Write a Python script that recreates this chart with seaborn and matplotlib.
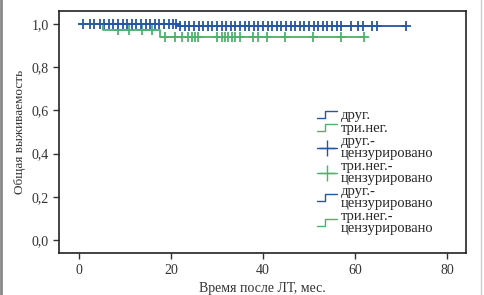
import matplotlib
matplotlib.use('Agg')
import matplotlib.pyplot as plt
from matplotlib.lines import Line2D
from matplotlib.legend_handler import HandlerBase
from matplotlib.ticker import FuncFormatter
import seaborn as sns
import numpy as np
import pandas as pd

# ступенчатые кривые Каплана-Мейера
drug_t = [0, 21.5, 71]
drug_s = [1.0, 0.988, 0.988]
trineg_t = [0, 5.2, 17.6, 62]
trineg_s = [1.0, 0.972, 0.941, 0.941]

# цензурированные наблюдения
drug_cens = [1, 2.4, 3.2, 4.6, 5.5, 6.5, 7.5, 8.5, 9.5, 10.5, 11.5, 12.5, 13.5, 14.5,
             15.5, 16.5, 17.5, 18.5, 19.5, 20.5, 21, 22, 23, 24, 25, 26, 27, 28, 29, 30,
             31, 32, 33, 34, 35, 36, 37, 38, 39, 40, 41, 42, 43, 44, 45, 46, 47, 48, 49,
             50, 51, 52, 53, 54, 55, 56, 57, 59, 60.7, 61.7, 63.7, 64.8, 71]
trineg_cens = [8.5, 11, 13.7, 15.9, 18.7, 20.9, 22.4, 23.7, 24.6, 25.2, 25.9, 30, 31,
               31.7, 32.4, 33.3, 33.9, 35, 37.8, 38.9, 40.9, 44.8, 50.9, 57, 62]

labels = ['друг.', 'три.нег.', 'друг.-\nцензурировано', 'три.нег.-\nцензурировано',
          'друг.-\nцензурировано', 'три.нег.-\nцензурировано']

blue = '#2456a4'
green = '#4db36c'

sns.set_style('ticks')
plt.rcParams['font.family'] = ['Liberation Serif', 'DejaVu Serif']


def surv_at(times, t_steps, s_steps):
    idx = np.searchsorted(t_steps, times, side='right') - 1
    return np.array(s_steps)[idx]


class StepHandler(HandlerBase):
    def create_artists(self, legend, orig_handle, xdescent, ydescent, width, height, fontsize, trans):
        x = np.array([0, 0.4, 0.4, 1.0]) * width - xdescent
        y = np.array([0.15, 0.15, 0.85, 0.85]) * height - ydescent
        ln = Line2D(x, y, color=orig_handle.get_color(), lw=1)
        ln.set_transform(trans)
        return [ln]


fig = plt.figure(figsize=(4.84, 2.95), dpi=100)
ax = fig.add_axes([0.122, 0.142, 0.841, 0.821])

df_d = pd.DataFrame({'t': drug_t, 's': drug_s})
df_g = pd.DataFrame({'t': trineg_t, 's': trineg_s})
sns.lineplot(data=df_g, x='t', y='s', drawstyle='steps-post', color=green, lw=1.3, ax=ax)
sns.lineplot(data=df_d, x='t', y='s', drawstyle='steps-post', color=blue, lw=1.3, ax=ax)

cg = pd.DataFrame({'t': trineg_cens, 's': surv_at(trineg_cens, trineg_t, trineg_s)})
cd = pd.DataFrame({'t': drug_cens, 's': surv_at(drug_cens, drug_t, drug_s)})
sns.scatterplot(data=cg, x='t', y='s', marker='+', s=42, color=green, linewidth=1.3, ax=ax)
sns.scatterplot(data=cd, x='t', y='s', marker='+', s=42, color=blue, linewidth=1.3, ax=ax)

ax.set_xlim(-4.3, 84.1)
ax.set_ylim(-0.06, 1.06)
ax.set_xticks([0, 20, 40, 60, 80])
ax.set_yticks([0, 0.2, 0.4, 0.6, 0.8, 1.0])
ax.yaxis.set_major_formatter(FuncFormatter(lambda v, p: f'{v:.1f}'.replace('.', ',')))
ax.tick_params(labelsize=10, length=4, width=1, colors='#333333', labelcolor='#333333')
for sp in ax.spines.values():
    sp.set_linewidth(1.2)
    sp.set_color('#222222')
ax.set_xlabel('Время после ЛТ, мес.', fontsize=10, color='#333333')
ax.set_ylabel('Общая выживаемость', fontsize=9.5, color='#333333')

h1 = Line2D([], [], color=blue)
h2 = Line2D([], [], color=green)
h3 = Line2D([], [], color=blue, marker='+', markersize=12, lw=1)
h4 = Line2D([], [], color=green, marker='+', markersize=12, lw=1)
h5 = Line2D([], [], color=blue)
h6 = Line2D([], [], color=green)
step = StepHandler()
leg = fig.legend([h1, h2, h3, h4, h5, h6], labels, loc='upper left',
                 bbox_to_anchor=(0.64, 0.655), frameon=False, fontsize=10.5,
                 handlelength=1.4, handletextpad=0.2, labelspacing=0.0,
                 numpoints=1, borderpad=0,
                 handler_map={h1: step, h2: step, h5: step, h6: step})
for t in leg.get_texts():
    t.set_linespacing(0.88)

# серая рамка вокруг рисунка
fig.add_artist(Line2D([0.003, 0.003], [0, 1], color='#888888', lw=2, transform=fig.transFigure))
fig.add_artist(Line2D([0.994, 0.994], [0, 1], color='#cccccc', lw=1, transform=fig.transFigure))

fig.savefig('out.png', dpi=100)
